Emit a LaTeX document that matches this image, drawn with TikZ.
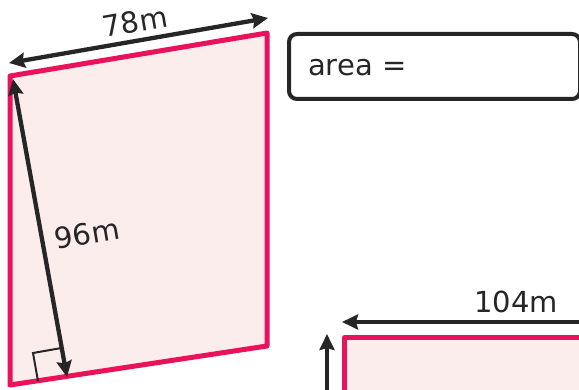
\documentclass[tikz,border=0pt]{standalone}
\usepackage{fontspec}
\setmainfont{DejaVu Sans}
\usetikzlibrary{arrows.meta}
\definecolor{pinkline}{RGB}{234,18,90}
\definecolor{pinkfill}{RGB}{252,237,237}
\definecolor{ink}{RGB}{38,38,38}
\tikzset{
  tip/.tip={Stealth[length=16pt,width=15pt,inset=2pt]},
  shapeline/.style={draw=pinkline,line width=5pt,fill=pinkfill,line join=round},
  dimarrow/.style={draw=ink,line width=4.3pt,-tip},
  dimboth/.style={draw=ink,line width=4.3pt,tip-tip},
  lbl/.style={inner sep=0pt,font=\fontsize{29}{34}\selectfont,text=ink},
  anglemark/.style={draw=ink,line width=2pt}
}
\begin{document}
\begin{tikzpicture}[x=1pt,y=-1pt]
\useasboundingbox (0,0) rectangle (579,390);
\clip (0,0) rectangle (579,390);
% parallelogram
\coordinate (A) at (10,76);
\coordinate (B) at (267,33);
\coordinate (C) at (267,346);
\coordinate (D) at (10,385);
\draw[shapeline] (A) -- (B) -- (C) -- (D) -- cycle;
% base arrow
\coordinate (tl) at (9,63);
\coordinate (tr) at (268,18);
\draw[dimboth] (tl) -- (tr);
\node[lbl,rotate=9.8] (l78) at (135,22) {78m};
% height arrow
\coordinate (ht) at (13,79);
\coordinate (hb) at (67,377);
\draw[dimboth] (ht) -- (hb);
\node[lbl,rotate=9.8] (l96) at (87,234) {96m};
% right angle
\coordinate (ra1) at (61.5,348);
\coordinate (ra2) at (33,353);
\coordinate (ra3) at (38,381);
\draw[anglemark] (ra1) -- (ra2) -- (ra3);
% area box
\node[draw=ink,line width=4pt,rounded corners=8pt,minimum width=291pt,minimum height=65pt,anchor=north west,inner sep=0pt] (box) at (287,32) {};
\node[lbl,anchor=base west] (area) at (308,76) {area =};
% second shape
\coordinate (E) at (344,338);
\draw[shapeline] (E) -- (600,338) -- (600,420) -- (344,420) -- cycle;
\coordinate (hr) at (600,322);
\coordinate (hl) at (342,322);
\draw[dimarrow] (hr) -- (hl);
\node[lbl] (l104) at (516,302) {104m};
\coordinate (vb) at (327,420);
\coordinate (vt) at (327,334);
\draw[dimarrow] (vb) -- (vt);
\end{tikzpicture}
\end{document}
